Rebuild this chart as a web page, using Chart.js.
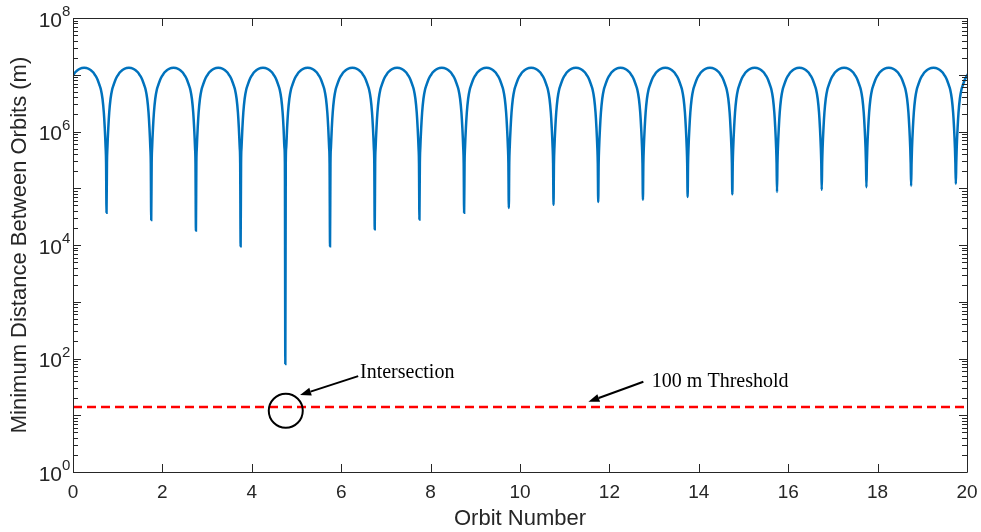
<!DOCTYPE html>
<html>
<head>
<meta charset="utf-8">
<script src="https://cdn.jsdelivr.net/npm/chart.js@4.4.1/dist/chart.umd.min.js"></script>
<style>
  html, body { margin: 0; padding: 0; background: #fff; }
  #wrap { width: 981px; height: 532px; }
</style>
</head>
<body>
<div id="wrap"><canvas id="orbitChart" width="981" height="532"></canvas></div>
<script>
// orbit at which each close approach happens (one per orbit)
const dipOrbits = [0.75, 1.75, 2.75, 3.75, 4.75, 5.75, 6.75, 7.75, 8.75, 9.75,
                   10.75, 11.75, 12.75, 13.75, 14.75, 15.75, 16.75, 17.75, 18.75, 19.75];
// minimum distance reached at each dip (m)
const dipMinima = [3.7e4, 2.75e4, 1.8e4, 9.5e3, 80, 9.5e3, 1.9e4, 2.8e4, 3.7e4, 4.5e4,
                   5.1e4, 5.7e4, 6.3e4, 7.0e4, 7.8e4, 8.6e4, 9.4e4, 1.04e5, 1.1e5, 1.19e5];
// arch shape between dips: orbit offset from a dip and distance there (m)
const archOffsets = [0.01, 0.02, 0.04, 0.06, 0.09, 0.125, 0.16, 0.2, 0.24, 0.27, 0.3, 0.35, 0.4, 0.45, 0.5];
const archValues = [2.8e5, 5.2e5, 1.17e6, 2.14e6, 3.78e6, 5.44e6, 6.67e6, 8.17e6, 9.42e6,
                    1.022e7, 1.104e7, 1.202e7, 1.272e7, 1.314e7, 1.33e7];

const thresholdLevel = 14;

const xTicks = [0, 2, 4, 6, 8, 10, 12, 14, 16, 18, 20];
const yTickValues = [1, 1e2, 1e4, 1e6, 1e8];
const yTickExps = ['0', '2', '4', '6', '8'];

// annotation anchors in data units
const circleAt = {x: 4.76, y: 12};
const intersectionText = {x: 6.42, y: 55, text: 'Intersection'};
const intersectionArrow = {from: {x: 6.38, y: 49}, to: {x: 5.08, y: 22.7}};
const thresholdText = {x: 12.95, y: 39, text: '100 m Threshold'};
const thresholdArrow = {from: {x: 12.76, y: 39}, to: {x: 11.53, y: 17.3}};

// build the distance curve from the read values
let distPoints = [];
archOffsets.forEach((o, i) => {
    if (o >= 0.24 && o < 0.5) distPoints.push({x: -0.25 + o, y: archValues[i]});
});
dipOrbits.forEach((m, k) => {
    for (let i = archOffsets.length - 1; i >= 0; i--) distPoints.push({x: m - archOffsets[i], y: archValues[i]});
    distPoints.push({x: m, y: dipMinima[k]});
    for (let i = 0; i < archOffsets.length - 1; i++) distPoints.push({x: m + archOffsets[i], y: archValues[i]});
});
distPoints = distPoints.filter(p => p.x >= -0.02 && p.x <= 20.02);
distPoints.sort((a, b) => a.x - b.x);

const axisColor = '#262626';

const boxTicks = {
    id: 'boxTicks',
    afterDraw(chart) {
        const {ctx, chartArea: a, scales: {x, y}} = chart;
        ctx.save();
        ctx.strokeStyle = axisColor;
        ctx.lineWidth = 1;
        ctx.beginPath();
        ctx.rect(Math.round(a.left) + 0.5, Math.round(a.top) + 0.5,
                 Math.round(a.right - a.left), Math.round(a.bottom - a.top));
        xTicks.forEach(v => {
            const px = Math.round(x.getPixelForValue(v)) + 0.5;
            ctx.moveTo(px, a.bottom); ctx.lineTo(px, a.bottom - 8);
            ctx.moveTo(px, a.top); ctx.lineTo(px, a.top + 8);
        });
        for (let e = 0; e <= 8; e++) {
            for (let m = 1; m <= 9; m++) {
                const v = m * Math.pow(10, e);
                if (v > 1e8) break;
                const py = Math.round(y.getPixelForValue(v)) + 0.5;
                const len = m === 1 ? 8 : 5;
                ctx.moveTo(a.left, py); ctx.lineTo(a.left + len, py);
                ctx.moveTo(a.right, py); ctx.lineTo(a.right - len, py);
            }
        }
        ctx.stroke();

        // y tick labels with superscript exponents
        ctx.fillStyle = axisColor;
        ctx.textBaseline = 'middle';
        yTickValues.forEach((v, i) => {
            const py = y.getPixelForValue(v);
            ctx.font = '21px "Liberation Sans", Arial, sans-serif';
            ctx.textAlign = 'right';
            ctx.fillText('10', 62, py + 3);
            ctx.font = '15px "Liberation Sans", Arial, sans-serif';
            ctx.textAlign = 'left';
            ctx.fillText(yTickExps[i], 62, py - 6);
        });
        ctx.restore();
    }
};

const notes = {
    id: 'notes',
    afterDatasetsDraw(chart) {
        const {ctx, scales: {x, y}} = chart;
        const P = p => [x.getPixelForValue(p.x), y.getPixelForValue(p.y)];
        ctx.save();
        ctx.strokeStyle = '#000';
        ctx.fillStyle = '#000';
        ctx.lineWidth = 2;
        const [cx, cy] = P(circleAt);
        ctx.beginPath();
        ctx.arc(cx, cy, 17, 0, Math.PI * 2);
        ctx.stroke();

        [intersectionArrow, thresholdArrow].forEach(ar => {
            const [x0, y0] = P(ar.from);
            const [x1, y1] = P(ar.to);
            const ang = Math.atan2(y1 - y0, x1 - x0);
            const hl = 11, hw = 4;
            const bx = x1 - hl * Math.cos(ang), by = y1 - hl * Math.sin(ang);
            ctx.beginPath();
            ctx.moveTo(x0, y0); ctx.lineTo(bx, by);
            ctx.stroke();
            ctx.beginPath();
            ctx.moveTo(x1, y1);
            ctx.lineTo(bx + hw * Math.sin(ang), by - hw * Math.cos(ang));
            ctx.lineTo(bx - hw * Math.sin(ang), by + hw * Math.cos(ang));
            ctx.closePath();
            ctx.fill();
        });

        ctx.font = '20px "Liberation Serif", "Times New Roman", serif';
        ctx.textAlign = 'left';
        ctx.textBaseline = 'middle';
        [intersectionText, thresholdText].forEach(t => {
            const [tx, ty] = P(t);
            ctx.fillText(t.text, tx, ty);
        });
        ctx.restore();
    }
};

new Chart(document.getElementById('orbitChart').getContext('2d'), {
    type: 'line',
    data: {
        datasets: [{
            label: 'Minimum distance',
            data: distPoints,
            borderColor: '#0072BD',
            borderWidth: 2.5,
            pointRadius: 0,
            cubicInterpolationMode: 'monotone',
            fill: false
        }, {
            label: 'Threshold',
            data: [{x: 0, y: thresholdLevel}, {x: 20, y: thresholdLevel}],
            borderColor: '#FF0000',
            borderWidth: 2.5,
            borderDash: [9, 5],
            pointRadius: 0,
            fill: false
        }]
    },
    options: {
        responsive: false,
        animation: false,
        layout: {padding: {left: 0, right: 14, top: 18, bottom: 0}},
        plugins: {legend: {display: false}, tooltip: {enabled: false}},
        scales: {
            x: {
                type: 'linear',
                min: 0,
                max: 20,
                afterBuildTicks: s => { s.ticks = xTicks.map(v => ({value: v})); },
                afterFit: s => { s.height = 60; s.paddingLeft = 0; s.paddingRight = 0; },
                grid: {display: false, drawTicks: false},
                border: {display: false},
                ticks: {
                    color: axisColor,
                    padding: 9,
                    maxRotation: 0,
                    font: {family: '"Liberation Sans", Arial, sans-serif', size: 19}
                },
                title: {
                    display: true,
                    text: 'Orbit Number',
                    color: axisColor,
                    padding: {top: 0, bottom: 0},
                    font: {family: '"Liberation Sans", Arial, sans-serif', size: 22}
                }
            },
            y: {
                type: 'logarithmic',
                min: 1,
                max: 1e8,
                afterFit: s => { s.width = 73; },
                grid: {display: false, drawTicks: false},
                border: {display: false},
                ticks: {display: false},
                title: {
                    display: true,
                    text: 'Minimum Distance Between Orbits (m)',
                    color: axisColor,
                    padding: {top: 7, bottom: 0},
                    font: {family: '"Liberation Sans", Arial, sans-serif', size: 22}
                }
            }
        }
    },
    plugins: [boxTicks, notes]
});
</script>
</body>
</html>
